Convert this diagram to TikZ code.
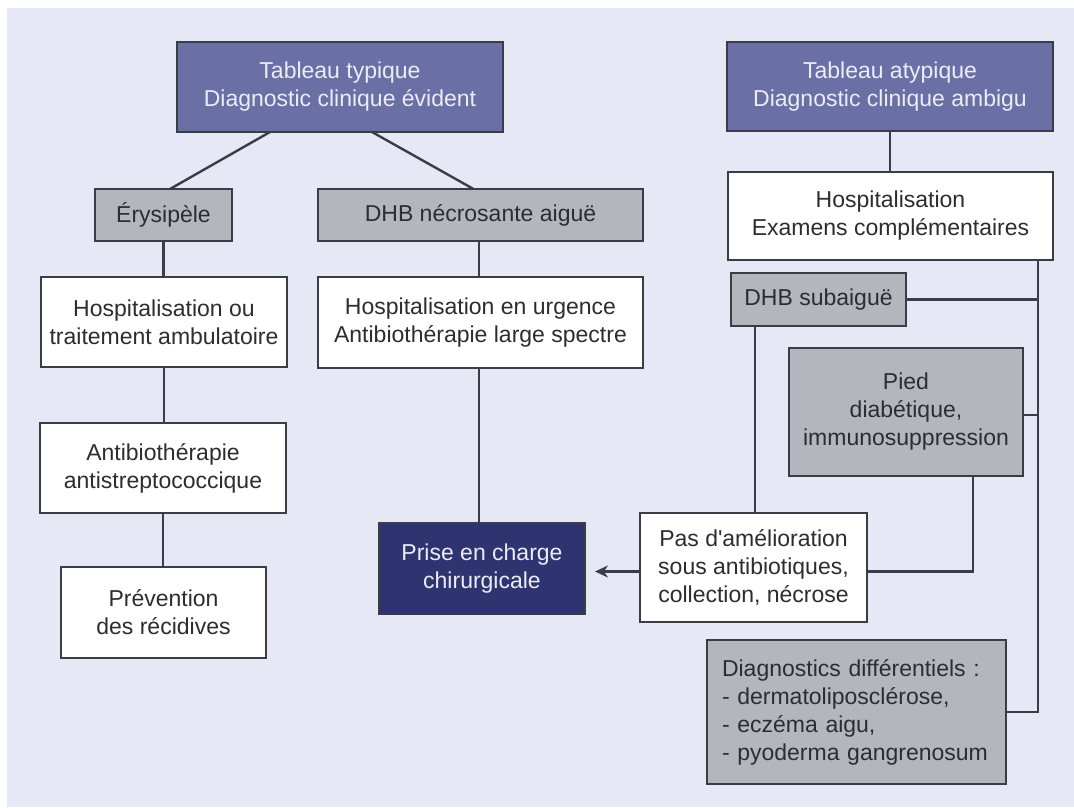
\documentclass[tikz,border=0pt]{standalone}
\usepackage{fontspec}
\setmainfont{Liberation Sans}[Ligatures=TeXOff]
\usetikzlibrary{arrows.meta,calc}
\definecolor{bgc}{RGB}{230,232,245}
\definecolor{topc}{RGB}{106,111,166}
\definecolor{grayc}{RGB}{180,182,190}
\definecolor{navyc}{RGB}{46,52,112}
\definecolor{linec}{RGB}{58,60,70}
\definecolor{textc}{RGB}{45,45,48}
\definecolor{lighttext}{RGB}{236,236,246}
\tikzset{
  box/.style={draw=linec, line width=2.4pt, inner sep=0pt, outer sep=0pt, align=center,
    font=\fontsize{23}{28}\selectfont, text=textc},
  whitebox/.style={box, fill=white},
  graybox/.style={box, fill=grayc},
  topbox/.style={box, fill=topc, text=lighttext},
  navybox/.style={box, fill=navyc, text=lighttext},
  conn/.style={draw=linec, line width=2.4pt},
  arr/.style={conn, -{Stealth[length=13pt,width=12pt]}, shorten >=10pt},
}
\begin{document}
\begin{tikzpicture}[x=1pt,y=-1pt]
\useasboundingbox (0,0) rectangle (1074,807);
\fill[white] (0,0) rectangle (1074,807);
\fill[bgc] (7,8) rectangle (1074,807);

% nodes
\node[topbox, minimum width=326pt, minimum height=90pt] (t1) at (340,87) {Tableau typique\\Diagnostic clinique évident};
\node[topbox, minimum width=326pt, minimum height=89pt] (t2) at (890,86.5) {Tableau atypique\\Diagnostic clinique ambigu};
\node[graybox, minimum width=137pt, minimum height=52pt] (ery) at (163.5,215) {Érysipèle};
\node[graybox, minimum width=325pt, minimum height=52pt] (dhbn) at (480.5,215) {DHB nécrosante aiguë};
\node[whitebox, minimum width=246pt, minimum height=90pt] (hosp1) at (164,322) {Hospitalisation ou\\traitement ambulatoire};
\node[whitebox, minimum width=246pt, minimum height=90pt] (abx) at (163,468) {Antibiothérapie\\antistreptococcique};
\node[whitebox, minimum width=205pt, minimum height=91pt] (prev) at (163.5,612.5) {Prévention\\des récidives};
\node[whitebox, minimum width=325pt, minimum height=91pt] (hosp2) at (480.5,322.5) {Hospitalisation en urgence\\Antibiothérapie large spectre};
\node[navybox, minimum width=206pt, minimum height=91pt] (prise) at (482,568.5) {Prise en charge\\chirurgicale};
\node[whitebox, minimum width=325pt, minimum height=88pt] (hosp3) at (890.5,216) {Hospitalisation\\Examens complémentaires};
\node[graybox, minimum width=175pt, minimum height=53pt] (dhbs) at (818.5,299.5) {DHB subaiguë};
\node[graybox, minimum width=234pt, minimum height=128pt] (pied) at (906,412) {Pied\\diabétique,\\immunosuppression};
\node[whitebox, minimum width=227pt, minimum height=109pt] (pas) at (753.5,567.5) {Pas d'amélioration\\sous antibiotiques,\\collection, nécrose};
\node[graybox, align=left, text width=269pt, inner xsep=15pt, inner ysep=0pt, minimum height=144pt] (diag) at (856.5,712) {Diagnostics différentiels :\\- dermatoliposclérose,\\- eczéma aigu,\\- pyoderma gangrenosum};

% connectors
\draw[conn] ([xshift=-70pt]t1.south) -- ([xshift=6.5pt]ery.north);
\draw[conn] ([xshift=32pt]t1.south) -- ([xshift=-7pt]dhbn.north);
\draw[conn] (ery.south) -- (ery.south |- hosp1.north);
\draw[conn] (hosp1.south) -- (hosp1.south |- abx.north);
\draw[conn] (abx.south) -- (abx.south |- prev.north);
\draw[conn] ([xshift=-1.5pt]dhbn.south) -- ([xshift=-1.5pt]dhbn.south |- hosp2.north);
\draw[conn] ([xshift=-1.5pt]hosp2.south) -- ([xshift=-1.5pt]hosp2.south |- prise.north);
\draw[conn] (t2.south) -- (t2.south |- hosp3.north);

\coordinate (trk) at ([xshift=-15pt]hosp3.south east);
\draw[conn] (trk) -- (trk |- diag.east) -- (diag.east);
\draw[conn] (dhbs.east) -- (dhbs.east -| trk);
\draw[conn] ([yshift=-3pt]pied.east) -- ([yshift=-3pt]pied.east -| trk);

\coordinate (dsb) at ([xshift=24pt]dhbs.south west);
\draw[conn] (dsb) -- (dsb |- pas.north);

\coordinate (pdb) at ([xshift=67pt]pied.south);
\coordinate (pasr) at ([yshift=-4pt]pas.east);
\draw[conn] (pdb) -- (pdb |- pasr) -- (pasr);

\coordinate (pasl) at ([yshift=-4pt]pas.west);
\draw[arr] (pasl) -- (pasl -| prise.east);
\end{tikzpicture}
\end{document}
